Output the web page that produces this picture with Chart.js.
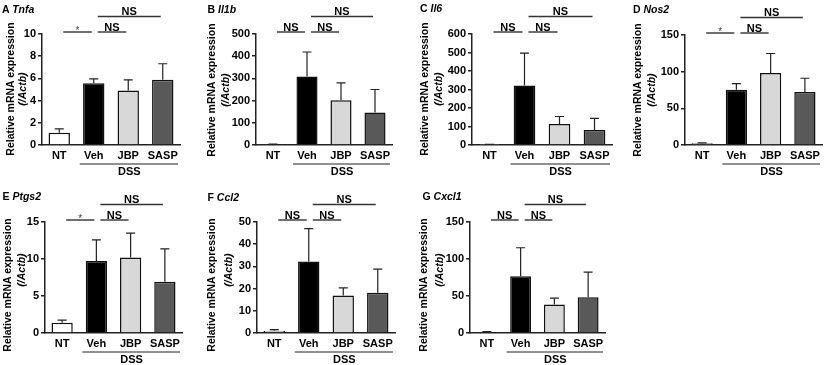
<!DOCTYPE html>
<html><head><meta charset="utf-8">
<script src="https://cdn.jsdelivr.net/npm/chart.js@4.4.1/dist/chart.umd.min.js"></script>
<style>
html,body{margin:0;padding:0;background:#fff;}
#wrap{position:relative;width:824px;height:365px;overflow:hidden;background:#fff;font-family:"Liberation Sans",Arial,Helvetica,sans-serif;}
canvas{position:absolute;}
.ttl{position:absolute;font-size:10.5px;font-weight:bold;line-height:12px;white-space:nowrap;color:#000;}
.yt{position:absolute;width:200px;height:14px;line-height:14px;text-align:center;font-size:10.5px;font-weight:bold;white-space:nowrap;transform:rotate(-90deg);color:#000;}
</style></head><body><div id="wrap"></div>
<script>
// ---------- data ----------
const categories = ['NT', 'Veh', 'JBP', 'SASP'];
const groupLabel = 'DSS';
const panelLetters = ['A', 'B', 'C', 'D', 'E', 'F', 'G'];
const geneNames = ['Tnfa', 'Il1b', 'Il6', 'Nos2', 'Ptgs2', 'Ccl2', 'Cxcl1'];
const yTitle1 = 'Relative mRNA expression';
const yTitle2a = '(/';
const yTitle2b = 'Actb';
const yTitle2c = ')';

const tnfaMean  = [1.1, 5.57, 4.9, 5.87];
const tnfaSem   = [0.35, 0.39, 0.97, 1.45];
const il1bMean  = [3, 309, 202, 146];
const il1bSem   = [1, 110, 78, 104];
const il6Mean   = [2, 322, 114, 81];
const il6Sem    = [1, 175, 40, 63];
const nos2Mean  = [2.3, 75.4, 98.3, 72.2];
const nos2Sem   = [0.7, 8.3, 26.5, 18.8];
const ptgs2Mean = [1.39, 9.72, 10.2, 6.94];
const ptgs2Sem  = [0.36, 2.86, 3.3, 4.43];
const ccl2Mean  = [1.05, 32.2, 16.9, 18.1];
const ccl2Sem   = [0.45, 14.8, 3.4, 10.7];
const cxcl1Mean = [1.3, 76.8, 38.4, 48.4];
const cxcl1Sem  = [0.5, 38.4, 8.6, 33.8];

const yMaxes = [10, 500, 600, 150, 15, 50, 150];
const ySteps = [2, 100, 100, 50, 5, 10, 50];

// comparisons: [from, to, level]
const comparisons = [[0, 1, 0], [1, 2, 0], [1, 3, 1]];
const tnfaSig  = ['*', 'NS', 'NS'];
const il1bSig  = ['NS', 'NS', 'NS'];
const il6Sig   = ['NS', 'NS', 'NS'];
const nos2Sig  = ['*', 'NS', 'NS'];
const ptgs2Sig = ['*', 'NS', 'NS'];
const ccl2Sig  = ['NS', 'NS', 'NS'];
const cxcl1Sig = ['NS', 'NS', 'NS'];

const means = [tnfaMean, il1bMean, il6Mean, nos2Mean, ptgs2Mean, ccl2Mean, cxcl1Mean];
const sems  = [tnfaSem, il1bSem, il6Sem, nos2Sem, ptgs2Sem, ccl2Sem, cxcl1Sem];
const sigs  = [tnfaSig, il1bSig, il6Sig, nos2Sig, ptgs2Sig, ccl2Sig, cxcl1Sig];

// ---------- layout / style ----------
const barColors = ['#ffffff', '#000000', '#d8d8d8', '#595959'];
const layoutCfg = [
  {cell:[0,0,205,182],     ax:[42,180],  yr:[34,145],  yt:[10,22,89,89],     ttl:[2,3]},
  {cell:[205,0,205,182],   ax:[256,392], yr:[34,145],  yt:[211,225,90,90],   ttl:[207.5,3]},
  {cell:[410,0,205,182],   ax:[472,612], yr:[34,145],  yt:[424,438,89,89],   ttl:[420,2]},
  {cell:[615,0,209,182],   ax:[685,823], yr:[35,145],  yt:[637,651,90,90],   ttl:[633,3]},
  {cell:[0,182,205,183],   ax:[45,182],  yr:[222,333], yt:[7,21,285,270],    ttl:[2.5,189.5]},
  {cell:[205,182,205,183], ax:[257,395], yr:[222,333], yt:[211,228,285,270], ttl:[207.5,191]},
  {cell:[410,182,205,183], ax:[470,605], yr:[222,333], yt:[423,439,285,270], ttl:[422.5,189.5]}
];
const YW = 40, XH = 20;
const FONT = '"Liberation Sans", Arial, Helvetica, sans-serif';
Chart.defaults.font.family = FONT;

const annotPlugin = {
  id: 'annot',
  afterDatasetsDraw(chart, args, opts) {
    const ctx = chart.ctx, xs = chart.scales.x, ys = chart.scales.y, ca = chart.chartArea;
    ctx.save();
    // error bars
    ctx.strokeStyle = '#222'; ctx.lineWidth = 1.2;
    opts.mean.forEach((m, i) => {
      const x = xs.getPixelForValue(i);
      const y0 = ys.getPixelForValue(m), y1 = ys.getPixelForValue(m + opts.sem[i]);
      ctx.beginPath();
      ctx.moveTo(x, y0); ctx.lineTo(x, y1);
      ctx.moveTo(x - 4.5, y1); ctx.lineTo(x + 4.5, y1);
      ctx.stroke();
    });
    // significance lines
    comparisons.forEach((c, k) => {
      const xa = xs.getPixelForValue(c[0]) + 4, xb = xs.getPixelForValue(c[1]) - 2;
      const y = c[2] === 0 ? ca.top - 2 : ca.top - 17.5;
      ctx.strokeStyle = '#333'; ctx.lineWidth = 1.4;
      ctx.beginPath(); ctx.moveTo(xa, y); ctx.lineTo(xb, y); ctx.stroke();
      const lab = opts.sig[k];
      ctx.textAlign = 'center';
      ctx.textBaseline = 'alphabetic';
      if (lab === '*') {
        ctx.fillStyle = '#444'; ctx.font = '10px ' + FONT;
        ctx.fillText(lab, (xa + xb) / 2, y + 1.5);
      } else {
        ctx.fillStyle = '#000'; ctx.font = 'bold 11px ' + FONT;
        ctx.fillText(lab, (xa + xb) / 2, y - 1.5);
      }
    });
    // DSS group bracket
    const dx0 = xs.getPixelForValue(1) - 14, dx1 = ca.right - 2, dy = ca.bottom + 19;
    ctx.strokeStyle = '#222'; ctx.lineWidth = 1;
    ctx.beginPath(); ctx.moveTo(dx0, dy); ctx.lineTo(dx1, dy); ctx.stroke();
    ctx.fillStyle = '#000'; ctx.font = 'bold 11px ' + FONT;
    ctx.textAlign = 'center'; ctx.textBaseline = 'middle';
    ctx.fillText(groupLabel, xs.getPixelForValue(2) + 1, ca.bottom + 27);
    ctx.restore();
  }
};

const wrap = document.getElementById('wrap');
for (let p = 0; p < 7; p++) {
  const L = layoutCfg[p];
  const [cl, ct, cw, ch] = L.cell;
  const cv = document.createElement('canvas');
  cv.width = cw; cv.height = ch;
  cv.style.left = cl + 'px'; cv.style.top = ct + 'px';
  cv.style.width = cw + 'px'; cv.style.height = ch + 'px';
  wrap.appendChild(cv);

  const t = document.createElement('div');
  t.className = 'ttl';
  t.style.left = L.ttl[0] + 'px'; t.style.top = L.ttl[1] + 'px';
  t.innerHTML = panelLetters[p] + ' <i>' + geneNames[p] + '</i>';
  wrap.appendChild(t);

  const y1 = document.createElement('div');
  y1.className = 'yt';
  y1.style.left = (L.yt[0] - 100) + 'px'; y1.style.top = (L.yt[2] - 7) + 'px';
  y1.textContent = yTitle1;
  wrap.appendChild(y1);
  const y2 = document.createElement('div');
  y2.className = 'yt';
  y2.style.left = (L.yt[1] - 100) + 'px'; y2.style.top = (L.yt[3] - 7) + 'px';
  y2.innerHTML = '<i>' + yTitle2a + yTitle2b + yTitle2c + '</i>';
  wrap.appendChild(y2);

  new Chart(cv, {
    type: 'bar',
    data: {
      labels: categories,
      datasets: [{
        data: means[p],
        backgroundColor: barColors,
        borderColor: '#111',
        borderWidth: 1.5,
        barPercentage: 0.62,
        categoryPercentage: 1
      }]
    },
    options: {
      responsive: false,
      animation: false,
      devicePixelRatio: 1,
      layout: { padding: {
        left: L.ax[0] - cl - YW,
        right: cl + cw - L.ax[1],
        top: L.yr[0] - ct,
        bottom: ct + ch - L.yr[1] - XH
      }},
      plugins: {
        legend: { display: false },
        tooltip: { enabled: false },
        annot: { mean: means[p], sem: sems[p], sig: sigs[p] }
      },
      scales: {
        x: {
          type: 'category',
          offset: true,
          grid: { display: false, drawTicks: false },
          border: { display: true, color: '#222', width: 1.5 },
          ticks: { color: '#000', font: { size: 11, weight: 'bold' }, padding: 4, maxRotation: 0, autoSkip: false },
          afterFit: (s) => { s.height = XH; }
        },
        y: {
          min: 0, max: yMaxes[p],
          grid: { display: true, drawOnChartArea: false, drawTicks: true, tickLength: 4, color: '#222', lineWidth: 1.5 },
          border: { display: true, color: '#222', width: 1.5 },
          ticks: { stepSize: ySteps[p], color: '#000', font: { size: 11, weight: 'bold' }, padding: 2 },
          afterFit: (s) => { s.width = YW; }
        }
      }
    },
    plugins: [annotPlugin]
  });
}
</script></body></html>
